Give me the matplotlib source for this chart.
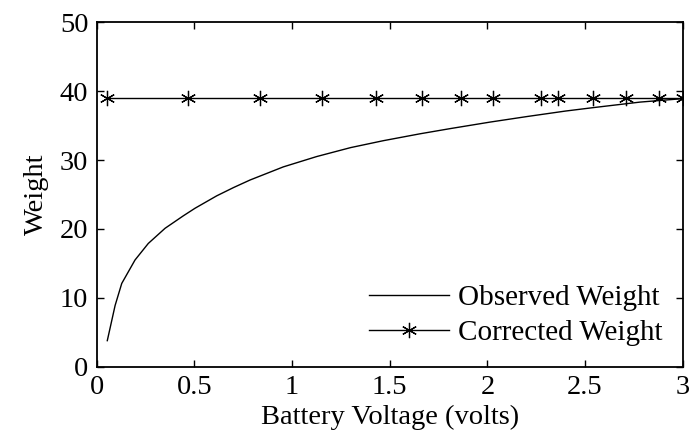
import numpy as np
from matplotlib import pyplot as plt

plt.rcParams['font.family'] = ['Liberation Serif', 'DejaVu Serif']

# observed weight vs battery voltage
volts_obs = [0.054, 0.094, 0.128, 0.196, 0.264, 0.350, 0.443, 0.503, 0.614,
             0.700, 0.785, 0.955, 1.126, 1.300, 1.467, 1.655, 1.809, 2.014,
             2.202, 2.400, 2.543, 2.782, 3.0]
weight_obs = [3.8, 8.9, 12.1, 15.5, 17.9, 20.1, 21.9, 23.0, 24.8,
              26.0, 27.1, 29.0, 30.5, 31.8, 32.8, 33.8, 34.55, 35.5,
              36.3, 37.1, 37.6, 38.4, 38.9]

# corrected weight samples
volts_cor = [0.054, 0.466, 0.836, 1.155, 1.429, 1.664, 1.865, 2.031,
             2.275, 2.360, 2.543, 2.710, 2.881, 3.0]
weight_cor = [39] * len(volts_cor)

fig = plt.figure(figsize=(6.91, 4.42), dpi=100)
ax = fig.add_axes([0.140, 0.170, 0.848, 0.780])

ax.plot(volts_obs, weight_obs, color='k', lw=1.0, label='Observed Weight')
ax.plot(volts_cor, weight_cor, color='k', lw=1.0, marker=(6, 2, 0),
        markersize=11, markeredgewidth=0.9, label='Corrected Weight')

ax.set_xlim(0, 3)
ax.set_ylim(0, 50)
ax.set_xticks([0, 0.5, 1, 1.5, 2, 2.5, 3])
ax.set_xticklabels(['0', '0.5', '1', '1.5', '2', '2.5', '3'])
ax.set_yticks([0, 10, 20, 30, 40, 50])

ax.tick_params(direction='in', length=5, width=1, top=True, right=True,
               labelsize=20.5, pad=6)
for s in ax.spines.values():
    s.set_linewidth(1.3)

ax.set_xlabel('Battery Voltage (volts)', fontsize=20.5, labelpad=3)
ax.set_ylabel('Weight', fontsize=20.5, labelpad=8)

ax.legend(loc='lower right', frameon=False, fontsize=21, handlelength=2.75,
          handletextpad=0.3, labelspacing=0.3, borderaxespad=0.3)

plt.savefig('out.png', dpi=100)
